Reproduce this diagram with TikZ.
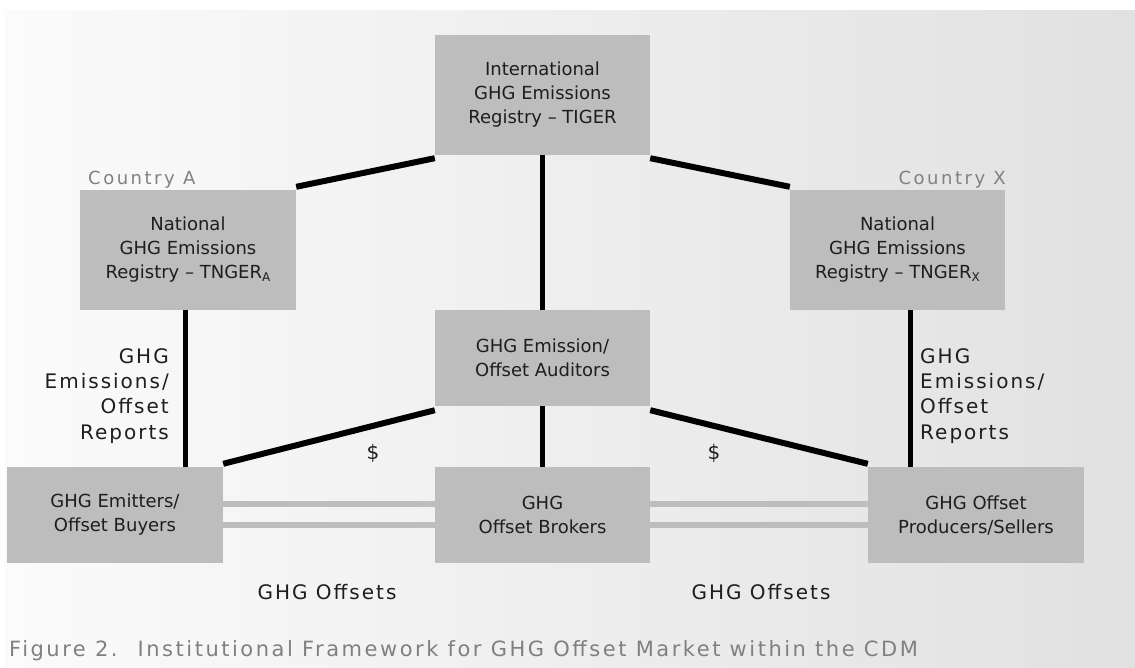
\documentclass[tikz,border=0pt]{standalone}
\usepackage{fontspec}
\setmainfont{DejaVu Sans}
\newfontfamily\lblfont[LetterSpace=10]{DejaVu Sans}
\newfontfamily\ctryfont[LetterSpace=14]{DejaVu Sans}
\newfontfamily\capfont[LetterSpace=12]{DejaVu Sans}
\usetikzlibrary{positioning}
\definecolor{boxgray}{RGB}{189,189,189}
\definecolor{txtgray}{RGB}{128,128,128}
\definecolor{bgleft}{RGB}{251,251,251}
\definecolor{bgright}{RGB}{225,225,225}
\definecolor{ink}{RGB}{30,30,30}
\newcommand{\sbx}[1]{\raisebox{-0.3ex}{\fontsize{12}{12}\selectfont #1}}
\tikzset{
  box/.style={fill=boxgray, draw=none, inner sep=0pt, align=center, text=ink,
    font=\fontsize{18}{24}\selectfont},
  blk/.style={line width=5pt, black},
  blkthick/.style={line width=6pt, black},
  gbar/.style={line width=6pt, boxgray},
  lbl/.style={inner sep=0pt, text=ink, font=\lblfont\fontsize{20}{25.3}\selectfont},
  ctry/.style={inner sep=0pt, text=txtgray, font=\ctryfont\fontsize{18}{22}\selectfont},
  caption/.style={inner sep=0pt, text=txtgray, font=\capfont\fontsize{21}{24}\selectfont}
}
\begin{document}
\begin{tikzpicture}[x=1pt,y=-1pt]
\useasboundingbox (0,0) rectangle (1135,668);
\shade[left color=bgleft, right color=bgright] (5,11) rectangle (1135,668);

\node[box, minimum width=215pt, minimum height=120pt] (tiger) at (542.5,95)
  {International\\GHG Emissions\\Registry -- TIGER};
\node[box, minimum width=216pt, minimum height=120pt] (natA) at (188,250)
  {National\\GHG Emissions\\Registry -- TNGER\sbx{A}};
\node[box, minimum width=215pt, minimum height=120pt] (natX) at (897.5,250)
  {National\\GHG Emissions\\Registry -- TNGER\sbx{X}};
\node[box, minimum width=215pt, minimum height=96pt] (aud) at (542.5,358)
  {GHG Emission/\\Offset Auditors};
\node[box, minimum width=216pt, minimum height=96pt] (emit) at (115,515)
  {GHG Emitters/\\Offset Buyers};
\node[box, minimum width=215pt, minimum height=96pt] (brok) at (542.5,515)
  {GHG\\Offset Brokers};
\node[box, minimum width=216pt, minimum height=96pt] (prod) at (976,515)
  {GHG Offset\\Producers/Sellers};

% black connectors
\draw[blkthick] ([yshift=-3pt]tiger.south west) -- ([yshift=3pt]natA.north east);
\draw[blkthick] ([yshift=-3pt]tiger.south east) -- ([yshift=3pt]natX.north west);
\draw[blk] (tiger.south) -- (aud.north);
\draw[blk] (natA.south -| 185,0) -- (emit.north -| 185,0);
\draw[blk] (natX.south -| 910,0) -- (prod.north -| 910,0);
\draw[blkthick] ([yshift=-4pt]aud.south west) -- ([yshift=3pt]emit.north east);
\draw[blkthick] ([yshift=-4pt]aud.south east) -- ([yshift=3pt]prod.north west);
\draw[blk] (aud.south) -- (brok.north);

% grey double bars
\draw[gbar] (emit.east |- 0,504) -- (brok.west |- 0,504);
\draw[gbar] (emit.east |- 0,525) -- (brok.west |- 0,525);
\draw[gbar] (brok.east |- 0,504) -- (prod.west |- 0,504);
\draw[gbar] (brok.east |- 0,525) -- (prod.west |- 0,525);

% labels
\node[ctry, anchor=west] (cA) at (88,180) {Country A};
\node[ctry, anchor=east] (cX) at (1006,180) {Country X};
\node[lbl, anchor=east, align=right] (repA) at (169,396) {GHG\\Emissions/\\Offset\\Reports};
\node[lbl, anchor=west, align=left] (repX) at (920,396) {GHG\\Emissions/\\Offset\\Reports};
\node[lbl] (d1) at (373,453) {\$};
\node[lbl] (d2) at (714,453) {\$};
\node[lbl] (o1) at (327,592) {GHG Offsets};
\node[lbl] (o2) at (761,592) {GHG Offsets};
\node[caption, anchor=base west] (cap) at (9,656)
  {Figure 2.\hspace{20pt}Institutional Framework for GHG Offset Market within the CDM};
\end{tikzpicture}
\end{document}
